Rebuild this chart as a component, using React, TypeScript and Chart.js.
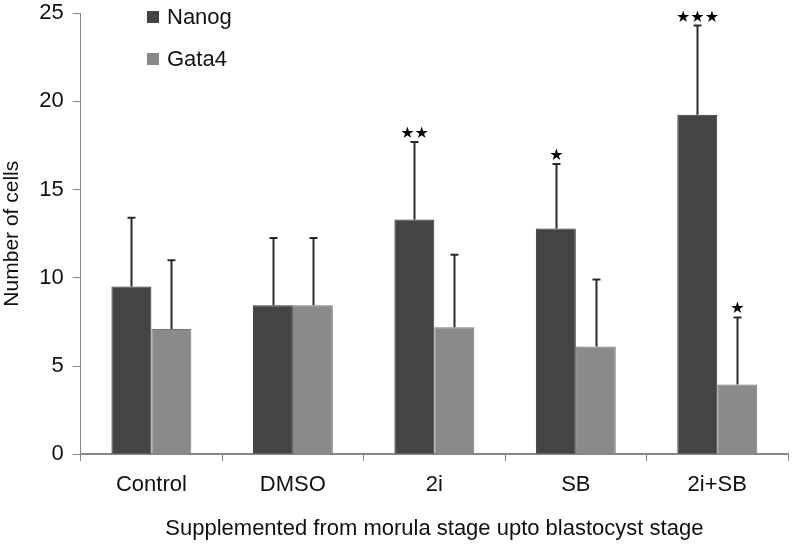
import React, { useEffect, useRef } from "react";
import { Chart, registerables } from "chart.js";

Chart.register(...registerables);

const categories = ["Control", "DMSO", "2i", "SB", "2i+SB"];
const nanog = [9.5, 8.45, 13.3, 12.8, 19.25];
const gata4 = [7.1, 8.45, 7.2, 6.1, 3.95];
const nanogErr = [3.9, 3.8, 4.4, 3.65, 5.05];
const gata4Err = [3.9, 3.8, 4.1, 3.8, 3.8];
const nanogSig = ["", "", "★★", "★", "★★★"];
const gata4Sig = ["", "", "", "", "★"];
const yTicks = [0, 5, 10, 15, 20, 25];

const FONT = "'Liberation Sans', Arial, sans-serif";
const SHIFT = 9;

const overlayPlugin = {
  id: "overlay",
  afterDatasetsDraw(chart: any) {
    const ctx = chart.ctx;
    const y = chart.scales.y;
    const errs = [nanogErr, gata4Err];
    const sigs = [nanogSig, gata4Sig];
    ctx.save();
    [0, 1].forEach((di) => {
      const meta = chart.getDatasetMeta(di);
      const data = chart.data.datasets[di].data as number[];
      meta.data.forEach((bar: any, i: number) => {
        const x = Math.round(bar.x) + 0.5;
        const top = y.getPixelForValue(data[i]);
        const et = y.getPixelForValue(data[i] + errs[di][i]);
        ctx.strokeStyle = "#2a2a2a";
        ctx.lineWidth = 2;
        ctx.beginPath();
        ctx.moveTo(x, top);
        ctx.lineTo(x, et);
        ctx.moveTo(x - 4, et);
        ctx.lineTo(x + 4, et);
        ctx.stroke();
        const s = sigs[di][i];
        if (s) {
          ctx.fillStyle = "#000";
          ctx.font = `16px 'DejaVu Sans', sans-serif`;
          ctx.textAlign = "center";
          ctx.textBaseline = "alphabetic";
          ctx.fillText(s, x, et - 4);
        }
      });
    });
    // legend
    const items = [
      { label: "Nanog", color: "#444444", y: 17 + SHIFT },
      { label: "Gata4", color: "#888888", y: 59 + SHIFT },
    ];
    items.forEach((it) => {
      ctx.fillStyle = it.color;
      ctx.fillRect(147, it.y - 6, 12, 12);
      ctx.fillStyle = "#111";
      ctx.font = `22px ${FONT}`;
      ctx.textAlign = "left";
      ctx.textBaseline = "middle";
      ctx.fillText(it.label, 167, it.y + 1);
    });
    ctx.restore();
  },
};

export default function App() {
  const ref = useRef<HTMLCanvasElement | null>(null);
  useEffect(() => {
    if (!ref.current) return;
    const chart = new Chart(ref.current, {
      type: "bar",
      data: {
        labels: categories,
        datasets: [
          {
            label: "Nanog",
            data: nanog,
            backgroundColor: "#444444",
            borderColor: "#333333",
            borderWidth: 1,
            categoryPercentage: 0.565,
            barPercentage: 1,
          },
          {
            label: "Gata4",
            data: gata4,
            backgroundColor: "#8a8a8a",
            borderColor: "#777777",
            borderWidth: 1,
            categoryPercentage: 0.565,
            barPercentage: 1,
          },
        ],
      },
      options: {
        animation: false,
        responsive: false,
        maintainAspectRatio: false,
        layout: { autoPadding: false, padding: { top: -1, right: 4, left: 0, bottom: 3 } },
        plugins: {
          legend: { display: false },
          tooltip: { enabled: false },
        },
        scales: {
          x: {
            grid: {
              display: true,
              drawOnChartArea: false,
              offset: true,
              tickLength: 7,
              color: "#888",
            },
            border: { color: "#888", width: 2 },
            ticks: {
              color: "#111",
              font: { family: FONT, size: 22 },
              padding: 11,
            },
            title: {
              display: true,
              text: "Supplemented from morula stage upto blastocyst stage",
              color: "#111",
              font: { family: FONT, size: 22 },
              padding: { top: 6, bottom: 0 },
            },
          },
          y: {
            min: 0,
            max: 25,
            afterBuildTicks: (axis: any) => {
              axis.ticks = yTicks.map((v) => ({ value: v }));
            },
            grid: {
              display: true,
              drawOnChartArea: false,
              tickLength: 8,
              color: "#888",
            },
            border: { color: "#888", width: 1 },
            ticks: {
              color: "#111",
              font: { family: FONT, size: 22 },
              padding: 9,
            },
            title: {
              display: true,
              text: "Number of cells",
              color: "#111",
              font: { family: FONT, size: 21 },
              padding: { top: 0, bottom: 5 },
            },
          },
        },
      },
      plugins: [overlayPlugin],
    });
    return () => chart.destroy();
  }, []);
  return (
    <div
      style={{
        position: "absolute",
        left: 0,
        top: 0,
        width: 792,
        height: 545,
        overflow: "hidden",
        background: "#fff",
      }}
    >
      <canvas
        ref={ref}
        width={792}
        height={545 + SHIFT}
        style={{ position: "absolute", left: 0, top: -SHIFT, width: 792, height: 545 + SHIFT }}
      />
    </div>
  );
}
